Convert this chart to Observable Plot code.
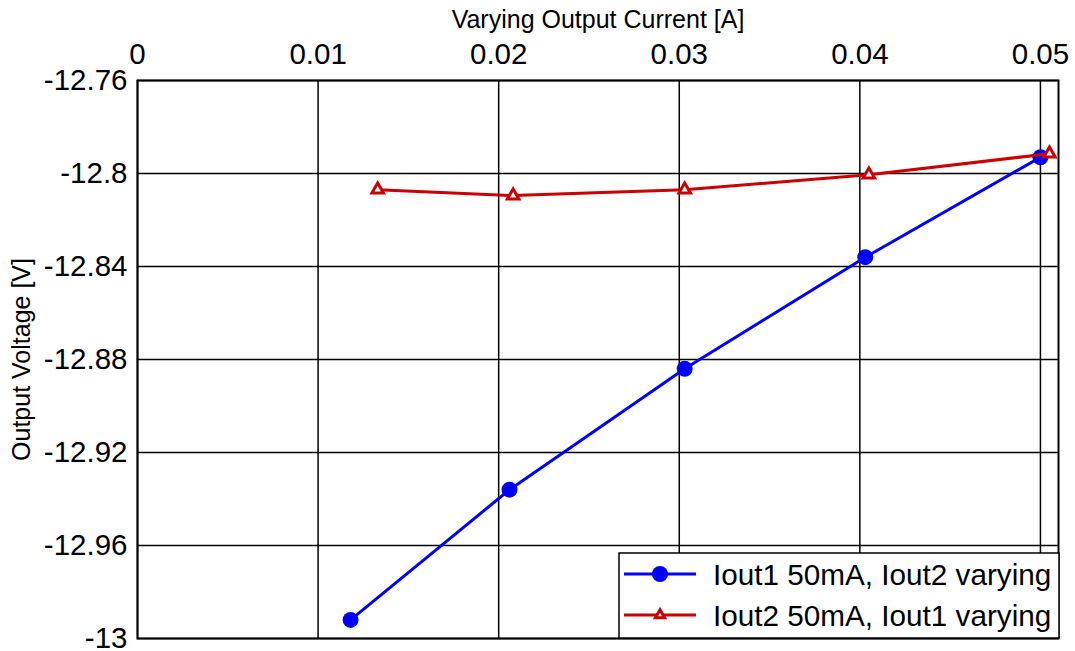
<!DOCTYPE html>
<html>
<head>
<meta charset="utf-8">
<script src="https://cdn.jsdelivr.net/npm/d3@7"></script>
<script src="https://cdn.jsdelivr.net/npm/@observablehq/plot@0.6"></script>
<style>
  html, body { margin: 0; padding: 0; background: #fff; }
  #wrap { position: relative; width: 1075px; height: 651px; font-family: "Liberation Sans", Arial, sans-serif; }
  #legend { position: absolute; left: 618px; top: 552px; }
</style>
</head>
<body>
<div id="wrap"></div>
<script>
// Data
const xTicks = [0, 0.01, 0.02, 0.03, 0.04, 0.05];
const yTicks = [-12.76, -12.8, -12.84, -12.88, -12.92, -12.96, -13];
const blueX = [0.0118, 0.0206, 0.0303, 0.0403, 0.0500];
const blueY = [-12.992, -12.936, -12.884, -12.836, -12.793];
const redX = [0.0133, 0.0208, 0.0303, 0.0405, 0.0505];
const redY = [-12.807, -12.8095, -12.807, -12.8005, -12.7915];
const seriesNames = ["Iout1 50mA, Iout2 varying", "Iout2 50mA, Iout1 varying"];
const xTitle = "Varying Output Current [A]";
const yTitle = "Output Voltage [V]";

const blue = blueX.map((x, i) => ({x, y: blueY[i]}));
const red = redX.map((x, i) => ({x, y: redY[i]}));
const fmt = d => String(+d.toFixed(2));

const chart = Plot.plot({
  width: 1075,
  height: 651,
  marginLeft: 137,
  marginTop: 80,
  marginRight: 17,
  marginBottom: 13,
  style: {fontFamily: "Liberation Sans, Arial, sans-serif", fontSize: "30px", color: "#000", background: "#fff", overflow: "visible"},
  x: {domain: [0, 0.051]},
  y: {domain: [-13, -12.76]},
  marks: [
    Plot.gridX(xTicks, {stroke: "#000", strokeOpacity: 1, strokeWidth: 1.5}),
    Plot.gridY(yTicks, {stroke: "#000", strokeOpacity: 1, strokeWidth: 1.5}),
    Plot.frame({stroke: "#000", strokeWidth: 2}),
    Plot.axisX(xTicks, {anchor: "top", tickSize: 0, tickPadding: 17, tickFormat: fmt, label: null, fontSize: 29.5}),
    Plot.axisY(yTicks, {anchor: "left", tickSize: 0, tickPadding: 10, tickFormat: fmt, label: null, fontSize: 29.5}),
    Plot.text([xTitle], {frameAnchor: "top", dy: -61, fontSize: 25, fill: "#000", lineAnchor: "middle"}),
    Plot.text([yTitle], {frameAnchor: "left", dx: -116, rotate: -90, textAnchor: "middle", fontSize: 25, fill: "#000"}),
    Plot.line(blue, {x: "x", y: "y", stroke: "#0000ff", strokeWidth: 3}),
    Plot.dot(blue, {x: "x", y: "y", r: 8, fill: "#0000ff", stroke: "none"}),
    Plot.line(red, {x: "x", y: "y", stroke: "#cc0000", strokeWidth: 3}),
    Plot.dot(red, {x: "x", y: "y", symbol: "triangle", r: 4.3, fill: "#fff", stroke: "#cc0000", strokeWidth: 3})
  ]
});
document.getElementById("wrap").appendChild(chart);

// Legend
const lg = d3.select("#wrap").append("svg").attr("id", "legend")
  .attr("width", 442).attr("height", 87);
lg.append("rect").attr("x", 1).attr("y", 1).attr("width", 440).attr("height", 85)
  .attr("fill", "#fff").attr("stroke", "#000").attr("stroke-width", 1.5);
const rows = [
  {name: seriesNames[0], color: "#0000ff", sym: "circle", y: 22},
  {name: seriesNames[1], color: "#cc0000", sym: "triangle", y: 63}
];
rows.forEach(r => {
  lg.append("line").attr("x1", 6).attr("x2", 78).attr("y1", r.y).attr("y2", r.y)
    .attr("stroke", r.color).attr("stroke-width", 3);
  if (r.sym === "circle") {
    lg.append("circle").attr("cx", 42).attr("cy", r.y).attr("r", 8).attr("fill", r.color);
  } else {
    lg.append("path").attr("transform", `translate(42,${r.y})`)
      .attr("d", d3.symbol(d3.symbolTriangle, 36)())
      .attr("fill", "#fff").attr("stroke", r.color).attr("stroke-width", 3);
  }
  lg.append("text").attr("x", 95).attr("y", r.y).attr("dy", "0.36em")
    .attr("font-size", 29.7).attr("font-family", "Liberation Sans, Arial, sans-serif")
    .attr("fill", "#000").text(r.name);
});
</script>
</body>
</html>
